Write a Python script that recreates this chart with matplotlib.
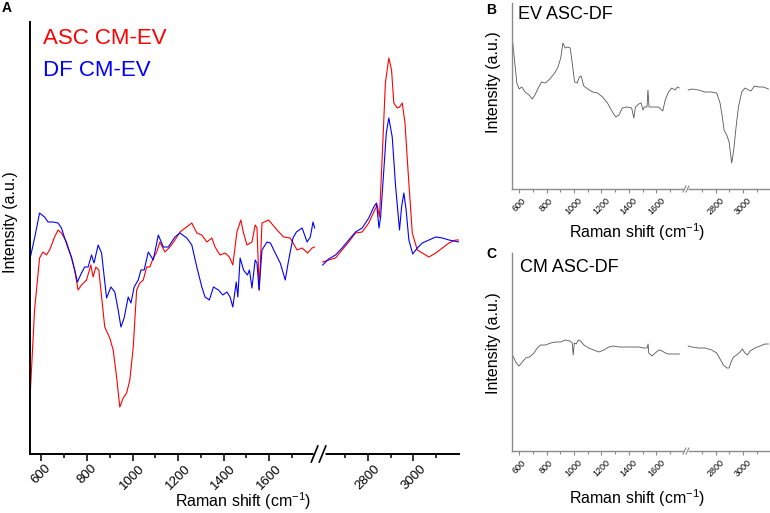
import numpy as np
import matplotlib
matplotlib.use("Agg")
import matplotlib.pyplot as plt

plt.rcParams['font.family'] = ['Liberation Sans', 'DejaVu Sans']

# ---------------- data (Raman shift, intensity a.u.) ----------------
asc_x = [549, 570, 592, 607, 622, 636, 658, 673, 688, 710, 732, 746, 761, 776, 798, 817, 827, 839, 852, 867,
         878, 900, 915, 930, 944, 959, 974, 988, 1003, 1018, 1032, 1047, 1062, 1076, 1091, 1106, 1120, 1142, 1164, 1186,
         1208, 1260, 1282, 1304, 1326, 1348, 1362, 1384, 1406, 1425, 1440, 1458, 1475, 1487, 1502, 1524, 1538, 1546, 1556, 1568,
         1597, 1634, 1663, 1692, 1722, 1744, 1768, 1788, 1798,
         2602, 2628, 2658, 2687, 2716, 2746, 2775, 2804, 2826, 2841, 2851, 2863, 2877, 2892, 2904, 2914, 2929, 2939, 2951, 2963,
         2977, 2995, 3017, 3039, 3068, 3098, 3127, 3156, 3186, 3200]
asc_y = [51, 144, 196, 202, 199, 204, 217, 224, 221, 212, 196, 184, 164, 169, 174, 189, 177, 187, 184, 151,
         127, 116, 104, 77, 47, 56, 61, 74, 107, 164, 171, 174, 187, 187, 196, 202, 212, 202, 207, 214,
         222, 231, 221, 219, 212, 216, 207, 199, 201, 197, 189, 222, 234, 221, 209, 212, 229, 226, 164, 231,
         234, 224, 217, 216, 204, 206, 201, 206, 207,
         192, 194, 196, 204, 212, 221, 222, 231, 242, 249, 237, 297, 371, 396, 384, 351, 346, 347, 351, 331,
         281, 221, 204, 201, 197, 201, 206, 211, 214, 214]

df_x = [549, 571, 592, 614, 629, 651, 673, 688, 702, 717, 732, 746, 758, 776, 790, 805, 820, 831, 849, 864,
        886, 905, 922, 937, 949, 963, 981, 993, 1007, 1025, 1037, 1051, 1069, 1091, 1113, 1135, 1157, 1186, 1208, 1238,
        1260, 1282, 1304, 1318, 1337, 1355, 1377, 1396, 1414, 1428, 1440, 1455, 1462, 1472, 1487, 1504, 1513, 1524, 1538, 1546,
        1555, 1568, 1590, 1605, 1626, 1648, 1670, 1685, 1704, 1719, 1744, 1766, 1780, 1792, 1799,
        2602, 2628, 2658, 2687, 2716, 2746, 2775, 2804, 2826, 2838, 2849, 2856, 2871, 2881, 2892, 2907, 2922, 2939, 2948, 2958,
        2968, 2980, 2997, 3017, 3039, 3068, 3098, 3127, 3156, 3200]
df_y = [194, 217, 241, 237, 232, 232, 231, 226, 216, 206, 197, 184, 172, 181, 187, 187, 199, 191, 209, 201,
        156, 167, 162, 144, 127, 136, 157, 151, 167, 174, 184, 184, 202, 194, 219, 207, 207, 217, 221, 216,
        209, 187, 167, 157, 154, 167, 164, 159, 162, 157, 147, 172, 157, 196, 184, 179, 184, 166, 194, 191,
        164, 204, 212, 211, 201, 191, 174, 194, 216, 222, 226, 212, 217, 232, 226,
        189, 195, 199, 206, 214, 222, 226, 236, 247, 251, 226, 237, 287, 321, 336, 317, 267, 224, 247, 261,
        244, 214, 200, 206, 211, 214, 217, 216, 214, 212]

ev_x = [551, 566, 583, 600, 619, 643, 672, 696, 715, 739, 764, 793, 823, 859, 883, 903, 919, 936, 955, 972,
        987, 1004, 1023, 1039, 1052, 1071, 1100, 1136, 1172, 1208, 1244, 1280, 1304, 1328, 1352, 1388, 1420, 1436, 1448, 1472,
        1489, 1503, 1513, 1532, 1539, 1547, 1580, 1616, 1647, 1665, 1689, 1713, 1737, 1754, 1768,
        2600, 2627, 2675, 2723, 2772, 2808, 2832, 2849, 2861, 2881, 2898, 2917, 2932, 2949, 2966, 2990, 3014, 3039, 3058, 3083,
        3112, 3149, 3185]
ev_y = [149, 129, 106, 100, 102, 97, 94, 90, 94, 101, 107, 106, 110, 116, 122, 131, 146, 141, 142, 141,
        126, 107, 106, 112, 113, 103, 100, 97, 96, 92, 86, 77, 72, 74, 81, 82, 81, 71, 82, 85,
        86, 79, 82, 82, 99, 82, 82, 82, 78, 89, 97, 101, 99, 102, 101,
        99, 100, 99, 97, 97, 96, 86, 72, 59, 54, 47, 26, 39, 62, 82, 97, 101, 99, 98, 103,
        102, 102, 100]

cm_x = [551, 575, 599, 623, 647, 676, 708, 732, 756, 793, 829, 866, 902, 938, 970, 987, 994, 1002, 1016, 1031,
        1048, 1072, 1108, 1144, 1181, 1217, 1254, 1290, 1326, 1363, 1399, 1436, 1472, 1508, 1533, 1540, 1545, 1569, 1593, 1617,
        1642, 1666, 1690, 1727, 1768,
        2600, 2627, 2675, 2723, 2772, 2808, 2832, 2857, 2881, 2898, 2913, 2930, 2954, 2978, 2995, 3014, 3031, 3051, 3087, 3124,
        3160, 3185]
cm_y = [96, 89, 85, 89, 93, 94, 98, 103, 106, 106, 108, 109, 109, 111, 110, 108, 96, 108, 107, 111,
        110, 106, 103, 101, 99, 101, 104, 105, 104, 104, 104, 104, 104, 103, 103, 107, 98, 95, 98, 101,
        100, 98, 97, 97, 97,
        105, 104, 103, 103, 101, 98, 92, 86, 83, 83, 89, 94, 96, 99, 102, 98, 96, 100, 103, 105,
        107, 107]

major_ticks = [600, 800, 1000, 1200, 1400, 1600, 2800, 3000]
minor_ticks = [700, 900, 1100, 1300, 1500, 1700, 2700, 2900, 3100]

# ---------------- broken-axis scale ----------------
B1, B2, GAP = 1800.0, 2600.0, 32.5
OFF = B2 - B1 - GAP


def fwd(x):
    x = np.asarray(x, dtype=float)
    return np.where(x <= B1, x, np.where(x >= B2, x - OFF, B1 + (x - B1) * GAP / (B2 - B1)))


def inv(u):
    u = np.asarray(u, dtype=float)
    return np.where(u <= B1, u, np.where(u >= B1 + GAP, u + OFF, B1 + (u - B1) * (B2 - B1) / GAP))


W, H = 770, 513
fig = plt.figure(figsize=(W / 100, H / 100), dpi=100)


def px_axes(l, r, b, t):
    return fig.add_axes([l / W, 1 - b / H, (r - l) / W, (b - t) / H])


axA = px_axes(30, 459, 454, 22)
axB = px_axes(512.3, 770.5, 189, 3)
axC = px_axes(512.3, 770.5, 451, 253)


def plot_segments(ax, xs, ys, **kw):
    xs = np.asarray(xs, float)
    ys = np.asarray(ys, float)
    for m in (xs < 2000, xs > 2000):
        ax.plot(xs[m], ys[m], **kw)


def style(ax, spine_color, spine_lw, tick_size, maj_len, min_len, ylim, pad):
    ax.set_xscale('function', functions=(fwd, inv))
    ax.set_xlim(550, 3200)
    ax.set_ylim(*ylim)
    for s in ('top', 'right'):
        ax.spines[s].set_visible(False)
    for s in ('left', 'bottom'):
        ax.spines[s].set_color(spine_color)
        ax.spines[s].set_linewidth(spine_lw)
    ax.set_xticks(major_ticks)
    ax.set_xticks(minor_ticks, minor=True)
    ax.set_xticklabels([str(t) for t in major_ticks], rotation=45)
    ax.tick_params(axis='x', which='major', length=maj_len, width=spine_lw * 0.8,
                   color=spine_color, labelsize=tick_size, pad=pad)
    ax.tick_params(axis='x', which='minor', length=min_len, width=spine_lw * 0.8, color=spine_color)
    ax.set_yticks([])


def break_mark(ax, xb, w_px, h_px, sep_px, color, lw):
    bb = ax.get_window_extent()
    lo, hi = fwd(550), fwd(3200)
    fx = float((fwd(xb) - lo) / (hi - lo))
    dx = w_px / bb.width
    dy = h_px / bb.height
    sx = sep_px / bb.width
    ax.plot([fx - sx / 2 - dx * 0.3, fx + sx / 2 + dx * 0.3], [0, 0], transform=ax.transAxes,
            color='white', lw=lw * 3, clip_on=False, zorder=5, solid_capstyle='butt')
    for c in (fx - sx / 2, fx + sx / 2):
        ax.plot([c - dx / 2, c + dx / 2], [-dy / 2, dy / 2], transform=ax.transAxes,
                color=color, lw=lw, clip_on=False, zorder=6)


# ---- Panel A ----
style(axA, 'black', 1.4, 9.5, 5, 3, (0, 432), 1)
plot_segments(axA, asc_x, asc_y, color='#ff0000', lw=0.8)
plot_segments(axA, df_x, df_y, color='#0000ff', lw=0.8)
axA.set_ylabel('Intensity (a.u.)', fontsize=11.5)
axA.yaxis.set_label_coords(-0.028, 0.537)
axA.set_xlabel(r'Raman shift (cm$^{\mathregular{-1}}$)', fontsize=11.5)
axA.xaxis.set_label_coords(0.497, -0.085)
break_mark(axA, 2200, 6.5, 16, 8, 'black', 1.2)
fig.text(42.7 / W, 1 - 39 / H, 'ASC CM-EV', color='#ff0000', fontsize=16, va='center', ha='left')
fig.text(42.7 / W, 1 - 70 / H, 'DF CM-EV', color='#0000ff', fontsize=16, va='center', ha='left')

# ---- Panel B ----
grey = '#8a8a8a'
style(axB, grey, 1.0, 6.5, 3, 2, (0, 186), 2)
plot_segments(axB, ev_x, ev_y, color='#555555', lw=0.6)
axB.set_ylabel('Intensity (a.u.)', fontsize=11.5)
axB.yaxis.set_label_coords(-0.044, 0.573)
axB.set_xlabel(r'Raman shift (cm$^{\mathregular{-1}}$)', fontsize=11.5)
axB.xaxis.set_label_coords(0.485, -0.172)
break_mark(axB, 2200, 3, 6, 3, grey, 0.8)
fig.text(517.7 / W, 1 - 15 / H, 'EV ASC-DF', fontsize=13, va='center', ha='left')

# ---- Panel C ----
style(axC, grey, 1.0, 6.5, 3, 2, (0, 198), 2)
plot_segments(axC, cm_x, cm_y, color='#555555', lw=0.6)
axC.set_ylabel('Intensity (a.u.)', fontsize=11.5)
axC.yaxis.set_label_coords(-0.044, 0.545)
axC.set_xlabel(r'Raman shift (cm$^{\mathregular{-1}}$)', fontsize=11.5)
axC.xaxis.set_label_coords(0.485, -0.182)
break_mark(axC, 2200, 3, 6, 3, grey, 0.8)
fig.text(520 / W, 1 - 268 / H, 'CM ASC-DF', fontsize=13, va='center', ha='left')

# panel letters
fig.text(7 / W, 1 - 8 / H, 'A', fontsize=10, fontweight='bold', va='center', ha='center')
fig.text(491 / W, 1 - 10 / H, 'B', fontsize=10, fontweight='bold', va='center', ha='center')
fig.text(491 / W, 1 - 254 / H, 'C', fontsize=10, fontweight='bold', va='center', ha='center')

fig.savefig('out.png', dpi=100)
